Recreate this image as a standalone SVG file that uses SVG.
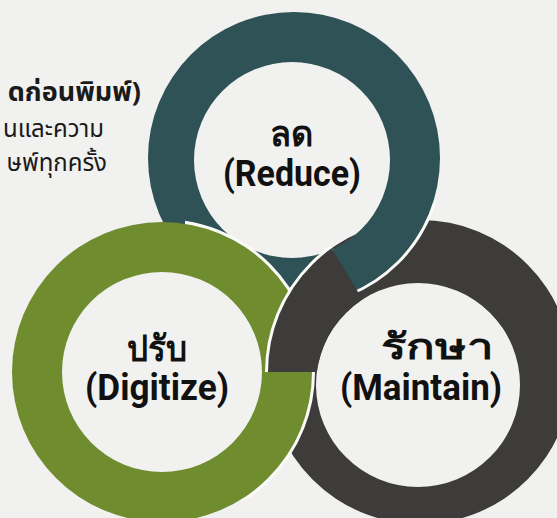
<svg xmlns="http://www.w3.org/2000/svg" xmlns:xlink="http://www.w3.org/1999/xlink" width="557" height="518" viewBox="0 0 557 518">
  <style>
    .bg { fill: #f1f1ef; }
    .teal { fill: #2f5256; fill-rule: evenodd; }
    .green { fill: #6f8c2f; fill-rule: evenodd; }
    .gray { fill: #3d3c3b; fill-rule: evenodd; }
    .edge { fill: none; stroke: #fbfbf8; stroke-width: 6; }
    .th { font-family: "Noto Sans Thai", "Noto Sans", "Liberation Sans", sans-serif; fill: #111; }
    .lbl { font-family: Roboto, "Liberation Sans", sans-serif; font-weight: 700; fill: #111; text-anchor: middle; }
    .note { font-family: "Noto Sans Thai", "Noto Sans", "Liberation Sans", sans-serif; fill: #1a1a1a; text-anchor: end; }
  </style>
  <defs>
    <path id="ring-teal" class="teal" d="M148,158 a146,146 0 1,0 292,0 a146,146 0 1,0 -292,0 Z M194,160 a98,98 0 1,0 196,0 a98,98 0 1,0 -196,0 Z"/>
    <circle id="edge-teal" class="edge" cx="294" cy="158" r="146"/>
    <path id="ring-green" class="green" d="M12,372 a150,150 0 1,0 300,0 a150,150 0 1,0 -300,0 Z M62,372 a100,100 0 1,0 200,0 a100,100 0 1,0 -200,0 Z"/>
    <circle id="edge-green" class="edge" cx="162" cy="372" r="150"/>
    <path id="ring-gray" class="gray" d="M268,372 a152,152 0 1,0 304,0 a152,152 0 1,0 -304,0 Z M316,385 a102,102 0 1,0 204,0 a102,102 0 1,0 -204,0 Z"/>
    <circle id="edge-gray" class="edge" cx="420" cy="372" r="152"/>
    <clipPath id="gray-over">
      <polygon points="150,120 255,120 406,372 150,372"/>
    </clipPath>
    <clipPath id="teal-edge-zone">
      <rect x="330" y="200" width="130" height="110"/>
    </clipPath>
    <clipPath id="green-edge-zone">
      <rect x="185" y="200" width="140" height="300"/>
    </clipPath>
  </defs>

  <rect class="bg" x="0" y="0" width="557" height="518"/>

  <g id="rings">
    <g id="gray-base">
      <use xlink:href="#ring-gray"/>
    </g>
    <g id="teal-base">
      <use xlink:href="#edge-teal" clip-path="url(#teal-edge-zone)"/>
      <use xlink:href="#ring-teal"/>
    </g>
    <g id="green-base">
      <use xlink:href="#edge-green" clip-path="url(#green-edge-zone)"/>
      <use xlink:href="#ring-green"/>
    </g>
    <g id="gray-over-part" clip-path="url(#gray-over)">
      <use xlink:href="#edge-gray"/>
      <use xlink:href="#ring-gray"/>
    </g>
  </g>

  <g id="node-reduce">
    <text class="th lbl" x="291" y="146" font-size="36" textLength="43" lengthAdjust="spacingAndGlyphs">ลด</text>
    <text class="lbl" x="292" y="186" font-size="37" textLength="138" lengthAdjust="spacingAndGlyphs">(Reduce)</text>
  </g>
  <g id="node-digitize">
    <text class="th lbl" x="157" y="361" font-size="36" textLength="60" lengthAdjust="spacingAndGlyphs">ปรับ</text>
    <text class="lbl" x="157" y="400" font-size="37" textLength="144" lengthAdjust="spacingAndGlyphs">(Digitize)</text>
  </g>
  <g id="node-maintain">
    <text class="th lbl" x="437" y="359" font-size="36" textLength="112" lengthAdjust="spacingAndGlyphs">รักษา</text>
    <text class="lbl" x="421" y="400" font-size="37" textLength="162" lengthAdjust="spacingAndGlyphs">(Maintain)</text>
  </g>

  <g id="note">
    <text class="note" x="141" y="101" font-size="27" font-weight="700">ดก่อนพิมพ์)</text>
    <text class="note" x="104" y="137" font-size="24" textLength="101" lengthAdjust="spacingAndGlyphs">นและความ</text>
    <text class="note" x="107" y="171" font-size="24">ษพ์ทุกครั้ง</text>
  </g>
</svg>
